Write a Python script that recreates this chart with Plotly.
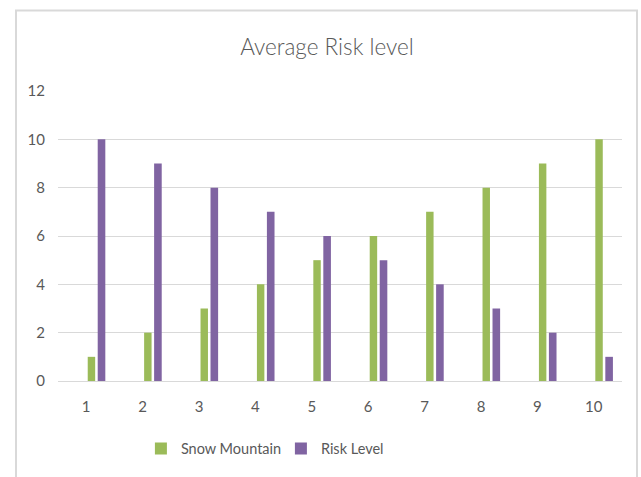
import plotly.graph_objects as go

# Data
categories = ["1", "2", "3", "4", "5", "6", "7", "8", "9", "10"]
snow_mountain = [1, 2, 3, 4, 5, 6, 7, 8, 9, 10]
risk_level = [10, 9, 8, 7, 6, 5, 4, 3, 2, 1]

GREEN = "#9BBB59"
PURPLE = "#8064A2"
TEXT = "#595959"
GRID = "#D9D9D9"
FONT = "Lato, 'Open Sans', sans-serif"

fig = go.Figure()
fig.add_trace(go.Bar(
    x=categories, y=snow_mountain, name="Snow Mountain",
    marker=dict(color=GREEN, line=dict(width=0)),
    offset=0.027, width=0.132,
))
fig.add_trace(go.Bar(
    x=categories, y=risk_level, name="Risk Level",
    marker=dict(color=PURPLE, line=dict(width=0)),
    offset=0.204, width=0.135,
))

fig.update_layout(
    width=641, height=477,
    margin=dict(l=58, r=19, t=91, b=94),
    paper_bgcolor="white", plot_bgcolor="white",
    barmode="overlay",
    font=dict(family=FONT, color=TEXT, size=15),
    title=dict(
        text="Average Risk level",
        x=0.51, xref="container", xanchor="center",
        y=1 - 47 / 477, yref="container", yanchor="middle",
        font=dict(family=FONT, size=22.5, color=TEXT, weight=300),
    ),
    xaxis=dict(
        type="category", showgrid=False, showline=False, zeroline=False,
        ticks="", ticklabelstandoff=15,
        tickfont=dict(size=15, color=TEXT),
    ),
    yaxis=dict(
        range=[0, 12], dtick=2, showgrid=True, gridcolor=GRID, gridwidth=1,
        zeroline=True, zerolinecolor=GRID, zerolinewidth=1,
        showline=False, ticks="", ticklabelstandoff=12,
        tickfont=dict(size=15, color=TEXT),
    ),
    showlegend=True,
    legend=dict(
        orientation="h", x=0.147, xanchor="left", y=-0.233, yanchor="middle",
        font=dict(size=14.5, color=TEXT), entrywidth=95, entrywidthmode="pixels",
        bgcolor="rgba(0,0,0,0)",
    ),
)

# Chart-area frame
fig.add_shape(
    type="rect", xref="paper", yref="paper",
    x0=(16 - 58) / 564, x1=(637 - 58) / 564,
    y0=-0.4, y1=(383 - 10) / 292,
    line=dict(color=GRID, width=2), fillcolor="rgba(0,0,0,0)", layer="below",
)

fig.write_html("out.html")
